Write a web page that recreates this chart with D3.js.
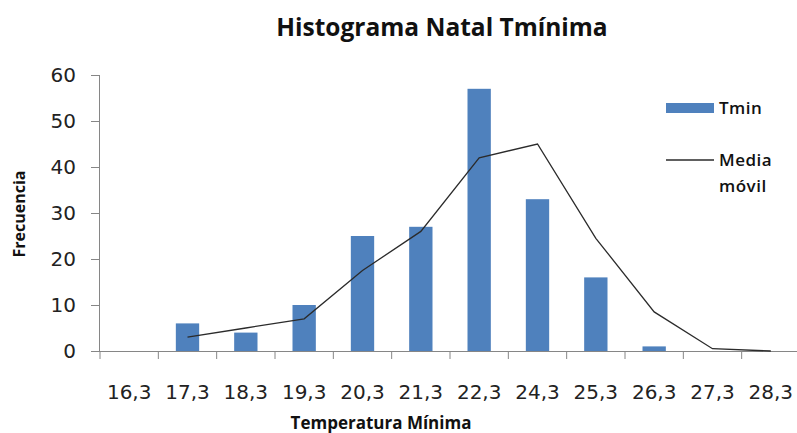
<!DOCTYPE html>
<html><head><meta charset="utf-8">
<script src="https://cdn.jsdelivr.net/npm/d3@7"></script>
<style>body{margin:0;background:#fff}svg{display:block}text{font-family:"Open Sans","Noto Sans",sans-serif}</style>
</head><body>
<svg id="c" width="797" height="433"></svg>
<script>
const categories = ["16,3","17,3","18,3","19,3","20,3","21,3","22,3","24,3","25,3","26,3","27,3","28,3"];
const tmin = [0,6,4,10,25,27,57,33,16,1,0,0];
const mediaMovil = [null,3,5,7,17.5,26,42,45,24.5,8.5,0.5,0];
const yTicks = [0,10,20,30,40,50,60];

const svg = d3.select("#c");
const mLeft = 100, mRight = 800, mTop = 75, mBottom = 351;
const x = d3.scaleBand().domain(categories).range([mLeft, mRight]).paddingInner(0).paddingOuter(0);
const y = d3.scaleLinear().domain([0,60]).range([mBottom, mTop]);
const axisColor = "#868686";
const tickFont = '"DejaVu Sans", sans-serif';

// bars
const bw = x.bandwidth()/2.5;
svg.append("g").selectAll("rect").data(categories).join("rect")
  .attr("x", d => x(d) + x.bandwidth()/2 - bw/2)
  .attr("width", bw)
  .attr("y", (d,i) => y(tmin[i]))
  .attr("height", (d,i) => y(0) - y(tmin[i]))
  .attr("fill", "#4F81BD");

// y axis
const ya = svg.append("g").attr("transform", `translate(${mLeft},0)`)
  .call(d3.axisLeft(y).tickValues(yTicks).tickSize(9).tickPadding(15).tickFormat(d3.format("d")));
ya.select(".domain").attr("stroke", axisColor).attr("d", `M-0.5,${mTop}V${mBottom}`);
ya.selectAll(".tick line").attr("stroke", axisColor);
ya.selectAll(".tick text").attr("fill", "#222").style("font-size", "20px").style("font-family", tickFont);

// x axis
const xa = svg.append("g").attr("transform", `translate(0,${mBottom})`)
  .call(d3.axisBottom(x).tickSize(0).tickPadding(34));
xa.select(".domain").attr("stroke", axisColor).attr("d", `M${mLeft},0.5H797`);
xa.selectAll(".tick line").remove();
xa.selectAll(".tick text").attr("fill", "#222").style("font-size", "20px").style("font-family", tickFont);
const bounds = categories.map(c => x(c)).concat([mRight]);
svg.append("g").selectAll("line").data(bounds).join("line")
  .attr("x1", d => d).attr("x2", d => d)
  .attr("y1", mBottom).attr("y2", mBottom + 8)
  .attr("stroke", axisColor);

// moving average line
const line = d3.line()
  .defined(d => d.v !== null)
  .x(d => x(d.c) + x.bandwidth()/2)
  .y(d => y(d.v));
svg.append("path")
  .datum(categories.map((c,i) => ({c, v: mediaMovil[i]})))
  .attr("d", line).attr("fill", "none").attr("stroke", "#2b2b2b").attr("stroke-width", 1.3);

// title
svg.append("text").attr("x", 442).attr("y", 36).attr("text-anchor", "middle")
  .style("font-size", "24.5px").style("font-weight", "bold").attr("fill", "#111")
  .text("Histograma Natal Tmínima");

// axis titles
svg.append("text").attr("x", 381).attr("y", 429).attr("text-anchor", "middle")
  .style("font-size", "17px").style("font-weight", "bold").attr("fill", "#111")
  .text("Temperatura Mínima");
svg.append("text").attr("transform", "translate(25,214) rotate(-90)").attr("text-anchor", "middle")
  .style("font-size", "16px").style("font-weight", "bold").attr("fill", "#111")
  .text("Frecuencia");

// legend
const lg = svg.append("g").style("font-size", "17px").style("font-weight", "600").style("letter-spacing", "0.5px");
lg.append("rect").attr("x", 666).attr("y", 103).attr("width", 48).attr("height", 10).attr("fill", "#4F81BD");
lg.append("text").attr("x", 719).attr("y", 114).attr("fill", "#111").text("Tmin");
lg.append("line").attr("x1", 666).attr("x2", 714).attr("y1", 160).attr("y2", 160).attr("stroke", "#2b2b2b").attr("stroke-width", 1.3);
lg.append("text").attr("x", 719).attr("y", 166).attr("fill", "#111").text("Media");
lg.append("text").attr("x", 719).attr("y", 192).attr("fill", "#111").text("móvil");
</script>
</body></html>
